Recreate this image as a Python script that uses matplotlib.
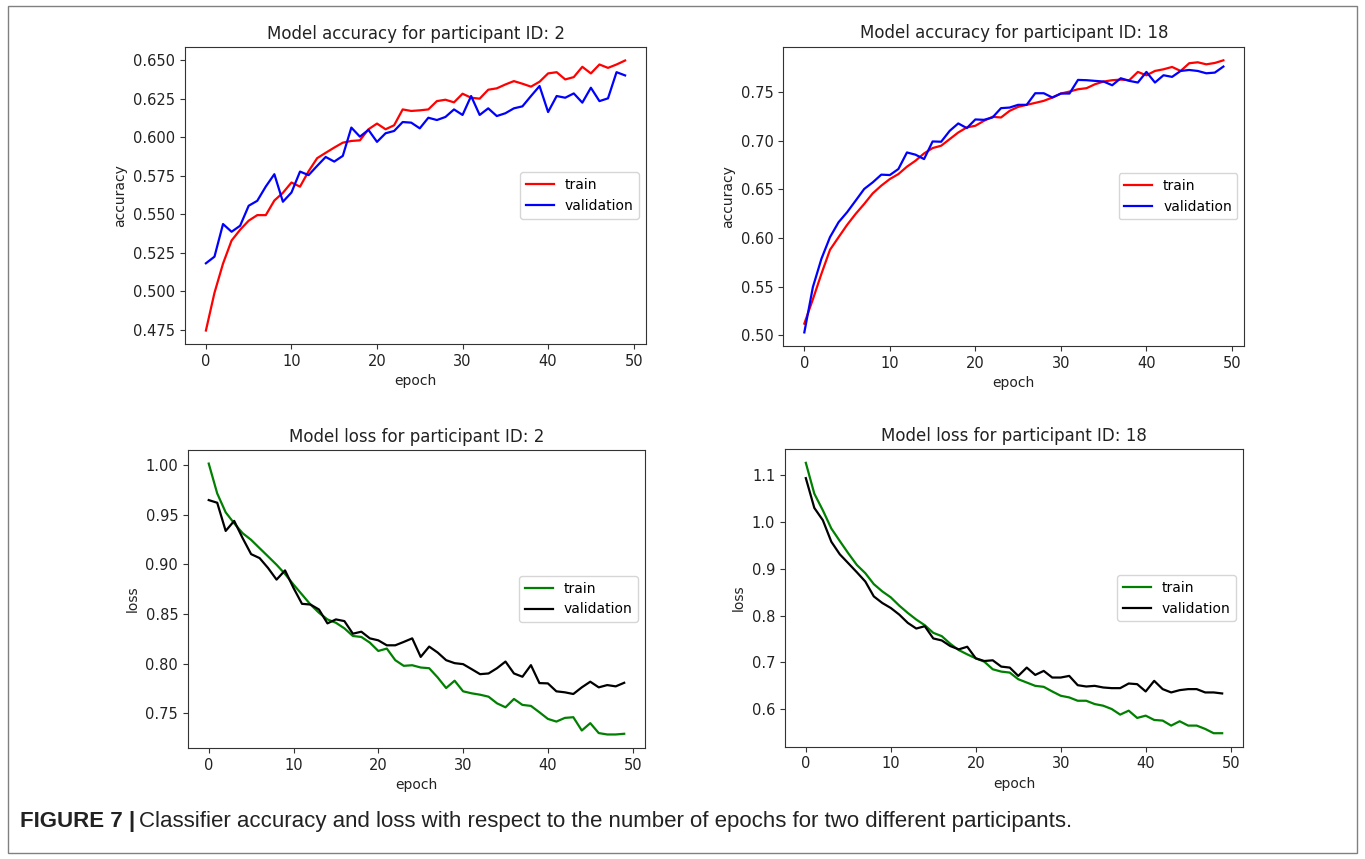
import matplotlib.pyplot as plt
from matplotlib.patches import Rectangle

epochs = list(range(50))

acc2_train = [0.4745, 0.499, 0.518, 0.533, 0.540, 0.5459, 0.5495, 0.5495, 0.559, 0.564,
              0.5707, 0.568, 0.578, 0.5865, 0.590, 0.5934, 0.5966, 0.5977, 0.5981, 0.6053,
              0.609, 0.6053, 0.6079, 0.6182, 0.6172, 0.6176, 0.6182, 0.6236, 0.6245, 0.6228,
              0.6284, 0.6258, 0.6252, 0.631, 0.6319, 0.6344, 0.6366, 0.6349, 0.633, 0.6362,
              0.6416, 0.6424, 0.6377, 0.6392, 0.6459, 0.6416, 0.6474, 0.6452, 0.6474, 0.650]
acc2_val = [0.5182, 0.5225, 0.5437, 0.5387, 0.5426, 0.5556, 0.5588, 0.5681, 0.5761, 0.5582,
            0.5642, 0.5778, 0.5755, 0.5815, 0.5873, 0.5843, 0.588, 0.6064, 0.6005, 0.6049,
            0.5971, 0.6027, 0.6042, 0.610, 0.6096, 0.6059, 0.6128, 0.6113, 0.6133, 0.6182,
            0.6146, 0.6269, 0.6146, 0.6189, 0.6139, 0.6157, 0.6189, 0.6202, 0.6269, 0.6334,
            0.6165, 0.6269, 0.6258, 0.6286, 0.6226, 0.6323, 0.6236, 0.6254, 0.6424, 0.6403]

acc18_train = [0.512, 0.537, 0.5632, 0.5878, 0.6007, 0.6134, 0.6247, 0.6349, 0.6458, 0.6537,
               0.6605, 0.6656, 0.6732, 0.6793, 0.6868, 0.6923, 0.6947, 0.7015, 0.7083, 0.7135,
               0.7152, 0.7203, 0.7244, 0.7237, 0.7305, 0.7346, 0.7367, 0.7387, 0.7408, 0.7442,
               0.7483, 0.7503, 0.7527, 0.7538, 0.7579, 0.7606, 0.762, 0.7626, 0.762, 0.7705,
               0.767, 0.7715, 0.7732, 0.7756, 0.7715, 0.7794, 0.7804, 0.7783, 0.7797, 0.7824]
acc18_val = [0.503, 0.5495, 0.5786, 0.6008, 0.6161, 0.6264, 0.6383, 0.6503, 0.6571, 0.665,
             0.6646, 0.6708, 0.6878, 0.6855, 0.681, 0.6991, 0.6988, 0.710, 0.7176, 0.7128,
             0.7217, 0.7213, 0.7237, 0.7333, 0.7339, 0.7367, 0.7367, 0.7486, 0.7486, 0.7442,
             0.7483, 0.7483, 0.7623, 0.762, 0.7613, 0.7606, 0.7568, 0.764, 0.7613, 0.7596,
             0.7705, 0.7596, 0.7671, 0.7654, 0.7715, 0.7725, 0.7715, 0.7691, 0.7698, 0.776]

loss2_train = [1.0017, 0.9716, 0.9525, 0.9415, 0.9315, 0.9248, 0.9164, 0.9081, 0.8997, 0.8904,
               0.8797, 0.8697, 0.8596, 0.8513, 0.8446, 0.8412, 0.8356, 0.8279, 0.8269, 0.8212,
               0.8128, 0.8152, 0.8035, 0.7978, 0.7984, 0.7961, 0.7954, 0.7861, 0.7754, 0.7828,
               0.7721, 0.7701, 0.7687, 0.7667, 0.760, 0.756, 0.7644, 0.7584, 0.7574, 0.751,
               0.7443, 0.7416, 0.7453, 0.746, 0.7326, 0.740, 0.730, 0.7286, 0.7286, 0.7293]
loss2_val = [0.9649, 0.9622, 0.9338, 0.9439, 0.9265, 0.9104, 0.9064, 0.8964, 0.8847, 0.894,
             0.8763, 0.8603, 0.8596, 0.8546, 0.8406, 0.8446, 0.8429, 0.8302, 0.8322, 0.8255,
             0.8235, 0.8185, 0.8185, 0.8219, 0.8255, 0.8068, 0.8172, 0.8112, 0.8035, 0.8005,
             0.7995, 0.7945, 0.7894, 0.7901, 0.7954, 0.8021, 0.7901, 0.7868, 0.7985, 0.7804,
             0.7801, 0.7721, 0.7711, 0.7694, 0.7761, 0.7818, 0.7761, 0.7784, 0.7771, 0.7807]

loss18_train = [1.127, 1.061, 1.0255, 0.9865, 0.9596, 0.9333, 0.9085, 0.8908, 0.8674, 0.8518,
                0.839, 0.8213, 0.8057, 0.7915, 0.7794, 0.7631, 0.756, 0.7397, 0.7262, 0.717,
                0.7085, 0.7014, 0.6851, 0.6801, 0.678, 0.6638, 0.6567, 0.6496, 0.6475, 0.6376,
                0.6284, 0.6248, 0.6177, 0.6177, 0.6106, 0.6071, 0.600, 0.588, 0.5965, 0.5809,
                0.5858, 0.5766, 0.5752, 0.5645, 0.5738, 0.5645, 0.5645, 0.5574, 0.5482, 0.5482]
loss18_val = [1.0943, 1.0305, 1.0043, 0.9582, 0.9312, 0.9121, 0.8929, 0.873, 0.8411, 0.827,
              0.8163, 0.8021, 0.7844, 0.7723, 0.7773, 0.7511, 0.7468, 0.7348, 0.7277, 0.7333,
              0.7085, 0.7028, 0.7043, 0.6908, 0.6887, 0.6709, 0.6887, 0.673, 0.6816, 0.6674,
              0.6674, 0.6709, 0.651, 0.6482, 0.6496, 0.6461, 0.6447, 0.6447, 0.6546, 0.6532,
              0.6376, 0.6603, 0.6426, 0.6355, 0.6404, 0.6426, 0.6426, 0.6355, 0.6355, 0.6333]

fig = plt.figure(figsize=(13.65, 8.59), dpi=100)

panels = [
    ([0.1355, 0.5995, 0.3378, 0.3458], acc2_train, acc2_val, "r", "b",
     "Model accuracy for participant ID: 2", "accuracy"),
    ([0.5739, 0.5972, 0.3377, 0.3484], acc18_train, acc18_val, "r", "b",
     "Model accuracy for participant ID: 18", "accuracy"),
    ([0.1377, 0.1292, 0.3348, 0.3469], loss2_train, loss2_val, "g", "k",
     "Model loss for participant ID: 2", "loss"),
    ([0.5751, 0.1307, 0.3355, 0.3462], loss18_train, loss18_val, "g", "k",
     "Model loss for participant ID: 18", "loss"),
]

for rect, train, val, c1, c2, title, ylabel in panels:
    ax = fig.add_axes(rect)
    ax.plot(epochs, train, color=c1, lw=1.6, label="train")
    ax.plot(epochs, val, color=c2, lw=1.6, label="validation")
    ax.set_title(title, fontsize=12, color="#222222")
    ax.set_xlabel("epoch", fontsize=10, color="#222222")
    ax.set_ylabel(ylabel, fontsize=10, color="#222222")
    ax.tick_params(labelsize=10.5, labelcolor="#222222", color="#333333")
    for s in ax.spines.values():
        s.set_edgecolor("#333333")
    ax.legend(loc="center right", fontsize=10)

# outer frame of the figure panel
fig.patches.append(Rectangle((0.0059, 0.007), 0.988, 0.986, transform=fig.transFigure,
                             fill=False, edgecolor="#808080", linewidth=1.0))

cap_font = ["Liberation Sans", "DejaVu Sans"]
t1 = fig.text(0.0147, 1 - 822 / 859, "FIGURE 7 |", fontsize=16, fontweight="bold",
              family=cap_font, va="center", ha="left", color="#222222")
fig.canvas.draw()
bb = t1.get_window_extent()
x_next = (bb.x1 + 4) / fig.bbox.width
fig.text(x_next, 1 - 822 / 859,
         "Classifier accuracy and loss with respect to the number of epochs for two different participants.",
         fontsize=16, family=cap_font, va="center", ha="left", color="#222222")

fig.savefig("out.png", dpi=100)
